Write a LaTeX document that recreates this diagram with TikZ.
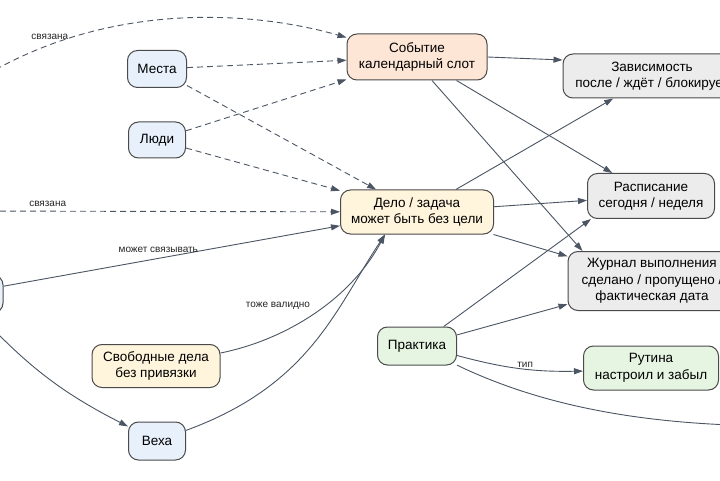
\documentclass[tikz,border=0pt]{standalone}
\usepackage{fontspec}
\setmainfont{Liberation Sans}
\usepackage{tikz}
\usetikzlibrary{positioning,calc,arrows.meta}
\definecolor{edgecol}{HTML}{4B5563}
\definecolor{boxline}{HTML}{4A4A4A}
\definecolor{bluefill}{HTML}{E8F0FB}
\definecolor{peachfill}{HTML}{FDE6D6}
\definecolor{creamfill}{HTML}{FFF4DC}
\definecolor{grayfill}{HTML}{ECECEC}
\definecolor{greenfill}{HTML}{E6F4E2}
\tikzstyle{arrow} = [-{Triangle[length=9pt,width=6pt]}, line width=0.9pt, draw=edgecol]
\tikzstyle{dasharrow} = [arrow, dash pattern=on 6pt off 4pt]
\tikzstyle{box} = [draw=boxline, line width=1pt, rounded corners=10pt, align=center, inner sep=5pt, font=\fontsize{13.5}{16.5}\selectfont]
\tikzstyle{lbl} = [font=\fontsize{10}{12}\selectfont, text=black!85]

\begin{document}
\begin{tikzpicture}[x=1pt, y=1pt]
    \fill[white] (0,0) rectangle (720,480);
    \useasboundingbox (0,0) rectangle (720,480);
    \clip (0,0) rectangle (720,480);

    % Sources on the left
    \node[box, fill=bluefill, minimum width=59pt, minimum height=37pt] (mesta) at (157,411) {Места};
    \node[box, fill=bluefill, minimum width=57pt, minimum height=36pt] (lyudi) at (157,340) {Люди};
    \node[box, fill=bluefill, minimum width=86pt, minimum height=38pt] (cel) at (-40,186) {};
    \node[box, fill=creamfill, minimum width=128pt, minimum height=43pt] (svobod) at (156,114) {Свободные дела\\без привязки};
    \node[box, fill=bluefill, minimum width=57pt, minimum height=38pt] (veha) at (157,39) {Веха};
    \coordinate (svyazA) at (-30,395);
    \coordinate (svyazB) at (-30,269);

    % Middle column
    \node[box, fill=peachfill, minimum width=140pt, minimum height=46pt] (sobytie) at (417,423) {Событие\\календарный слот};
    \node[box, fill=creamfill, minimum width=153pt, minimum height=44pt] (delo) at (417,268) {Дело / задача\\может быть без цели};
    \node[box, fill=greenfill, minimum width=79pt, minimum height=38pt] (praktika) at (417,134) {Практика};

    % Right column
    \node[box, fill=grayfill, minimum width=178pt, minimum height=44pt] (zavis) at (652,404) {Зависимость\\после / ждёт / блокирует};
    \node[box, fill=grayfill, minimum width=127pt, minimum height=45pt] (raspis) at (651,284) {Расписание\\сегодня / неделя};
    \node[box, fill=grayfill, minimum width=168pt, minimum height=59pt] (zhurnal) at (652,199) {Журнал выполнения\\сделано / пропущено /\\фактическая дата};
    \node[box, fill=greenfill, minimum width=135pt, minimum height=44pt] (rutina) at (651,112) {Рутина\\настроил и забыл};
    \coordinate (dalee) at (780,54);

    % Dashed links
    \draw[dasharrow] (svyazA) .. controls (100,480) and (250,470) .. ([yshift=-4pt]sobytie.north west) node[lbl, pos=0.2, above=1pt] {связана};
    \draw[dasharrow] (svyazB) -- (delo) node[lbl, pos=0.21, above=1pt] {связана};
    \draw[dasharrow] (mesta) -- (sobytie);
    \draw[dasharrow] (mesta) -- (delo);
    \draw[dasharrow] (lyudi) -- (sobytie);
    \draw[dasharrow] (lyudi) -- (delo);

    % Into the task
    \draw[arrow] (cel) -- (delo) node[lbl, pos=0.46, above=2pt] {может связывать};
    \draw[arrow] (cel) to[bend right=10] (veha);
    \draw[arrow] (svobod) .. controls (285,140) and (350,180) .. ([xshift=-32pt]delo.south) node[lbl, pos=0.5, above left] {тоже валидно};
    \draw[arrow] (veha) .. controls (310,95) and (335,170) .. ([xshift=-32pt]delo.south);

    % Event and task outputs
    \draw[arrow] (sobytie.east) -- ([yshift=16pt]zavis.west);
    \draw[arrow] (sobytie) -- (raspis);
    \draw[arrow] ([xshift=15pt]sobytie.south) -- ([xshift=15pt]zhurnal.north west);
    \draw[arrow] (delo) -- (zavis);
    \draw[arrow] (delo) -- (raspis);
    \draw[arrow] (delo) -- (zhurnal);

    % Practice
    \draw[arrow] (praktika) -- ([xshift=4pt]raspis.south west);
    \draw[arrow] (praktika) -- (zhurnal);
    \draw[arrow] (praktika) to[bend right=8] node[lbl, pos=0.55, above=-2pt] {тип} (rutina);
    \draw[arrow] (praktika) .. controls (540,75) and (640,55) .. (dalee);
\end{tikzpicture}
\end{document}
